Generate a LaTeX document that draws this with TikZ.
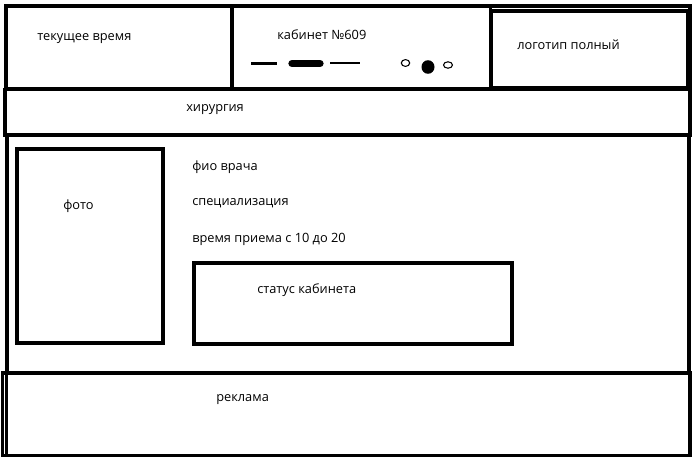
\documentclass[tikz,border=0pt]{standalone}
\usepackage{fontspec}
\setmainfont{Open Sans}
\begin{document}
\begin{tikzpicture}[x=0.75pt,y=-0.75pt,
  box/.style={draw=black,line width=2.3pt},
  lbl/.style={anchor=west,inner sep=0pt,yshift=-1.2pt,font=\fontsize{9.6}{11}\selectfont}]
\useasboundingbox[fill=white] (0,0) rectangle (697,464);
% top bar
\draw[box] (6,6) rectangle (690,89);
\draw[box] (232,6) -- (232,89);
\draw[box] (490.5,6) -- (490.5,89);
\draw[box] (491,11) rectangle (688,88);
% surgery bar
\draw[box] (5,89.5) rectangle (690,135);
% main section
\draw[box] (7,135) rectangle (689,373);
\draw[box] (17,149) rectangle (163,343);
\draw[box] (194,263) rectangle (512,344);
% advertising
\draw[box] (2.5,373) rectangle (690,455.5);
\draw[box] (6.5,373) -- (6.5,455.5);
% cabinet marks
\draw[line width=2.3pt] (251,63.5) -- (277,63.5);
\draw[line width=5.5pt,line cap=round] (292,63.5) -- (320,63.5);
\draw[line width=1pt] (330,63) -- (360,63);
\draw[line width=0.8pt] (405.5,63) ellipse [x radius=4.2, y radius=3.4];
\fill (428,67) ellipse [x radius=6.5, y radius=6.8];
\draw[line width=0.8pt] (448,65) ellipse [x radius=4.5, y radius=3.2];
% texts
\node[lbl] (time) at (37,37) {текущее время};
\node[lbl] (cab) at (277,33) {кабинет №609};
\node[lbl] (logo) at (517,43) {логотип полный};
\node[lbl] (surg) at (186,108) {хирургия};
\node[lbl] (photo) at (63,205) {фото};
\node[lbl] (fio) at (192,166) {фио врача};
\node[lbl] (spec) at (192,202) {специализация};
\node[lbl] (hours) at (192,238) {время приема с 10 до 20};
\node[lbl] (status) at (257,289) {статус кабинета};
\node[lbl] (ad) at (216,398) {реклама};
\end{tikzpicture}
\end{document}
